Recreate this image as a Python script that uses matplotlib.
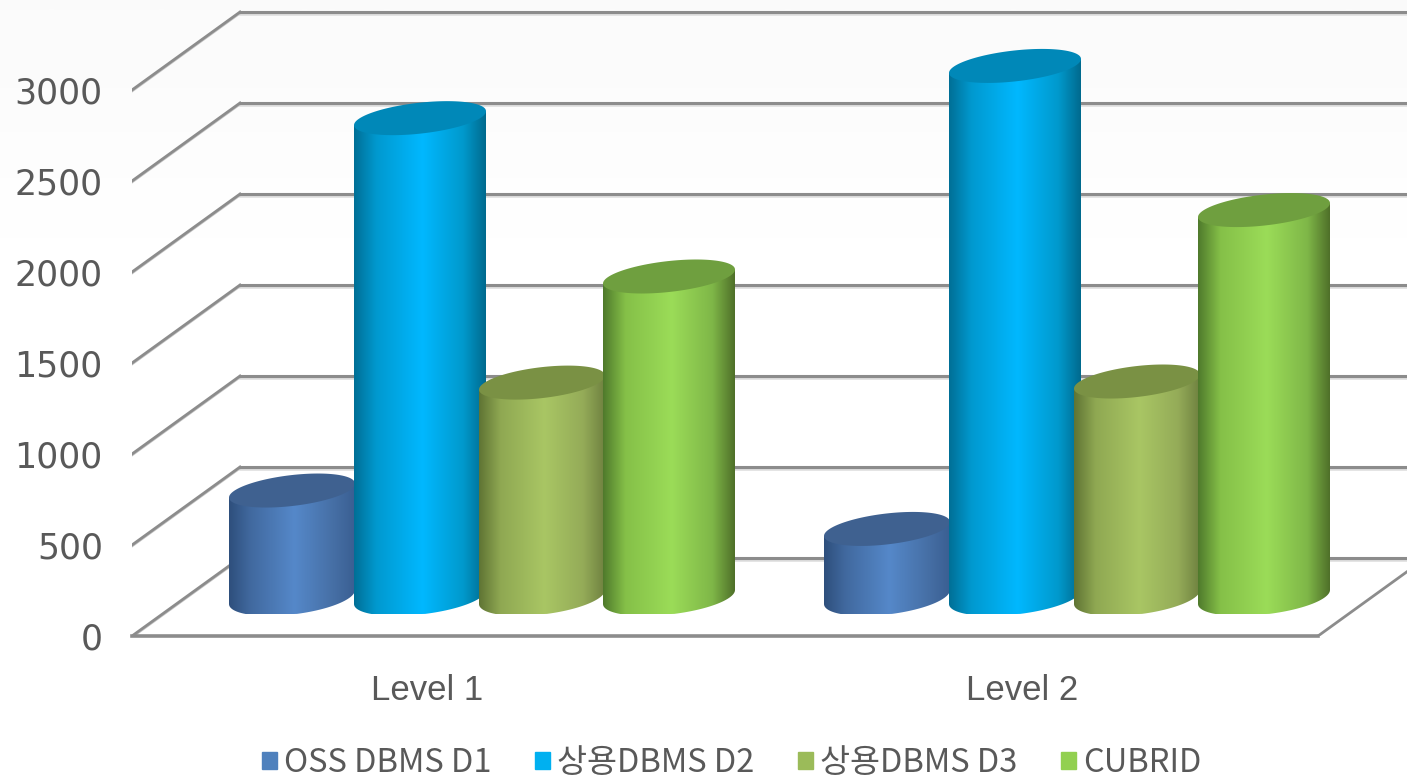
import numpy as np
import matplotlib
matplotlib.use("Agg")
import matplotlib.pyplot as plt
from matplotlib.colors import LinearSegmentedColormap
from matplotlib.patches import Patch, Polygon

levels = ["Level 1", "Level 2"]
series_names = ["OSS DBMS D1", "상용DBMS D2", "상용DBMS D3", "CUBRID"]
d1_values = [585, 374]
d2_values = [2631, 2918]
d3_values = [1178, 1184]
cubrid_values = [1761, 2126]
y_ticks = [0, 500, 1000, 1500, 2000, 2500, 3000]

legend_colors = ["#4f81bd", "#00b0f0", "#9bbb59", "#92d050"]
top_colors = ["#3f6190", "#0088b8", "#7a9144", "#6f9f3f"]
side_stops = [["#2e4f7c", "#41699f", "#5588c9", "#466fa5", "#3a5f92"],
              ["#006f96", "#0099cf", "#00b8ff", "#0099cc", "#006a8e"],
              ["#5f7434", "#8fa852", "#a9c664", "#94ab58", "#6f8140"],
              ["#4f7a2c", "#85c048", "#9bdc58", "#7fb748", "#4f7029"]]

W, H = 1407, 778
PX_X = 595.0  # pixels per category
PX_Y = 0.182  # pixels per value unit
DEPTH_X = 108 / PX_X
DEPTH_Y = 78 / PX_Y
FLOOR_PX = 636
LEFT_PX = 132

bar_offsets = np.array([-189, -61, 61, 188]) / PX_X
bar_halfs = np.array([63, 66, 63, 66]) / PX_X
SHEAR = 7 / PX_Y
THICK = 15.5 / PX_Y
BASE_THICK = 17.5 / PX_Y
GRID_DARK = "#8c8c8c"
GRID_LIGHT = "#dcdcdc"
TEXT = "#595959"

fig = plt.figure(figsize=(W / 100, H / 100), dpi=100, facecolor="white")

# faint grey wash at the top of the picture
bg = fig.add_axes([0, 0, 1, 1], zorder=-1)
wash = np.array([[0.98], [0.99], [0.997], [1.0], [1.0], [1.0], [1.0], [1.0]])
bg.imshow(wash, cmap="gray", vmin=0, vmax=1, aspect="auto", interpolation="bicubic")
bg.axis("off")

ax = fig.add_axes([LEFT_PX / W, (H - FLOOR_PX) / H, 1 - LEFT_PX / W, FLOOR_PX / H])
ax.patch.set_visible(False)
x_min = (LEFT_PX - 427) / PX_X
x_max = (W - 427) / PX_X
y_max = FLOOR_PX / PX_Y

# walls and floor
for v in y_ticks:
    back_x = [x_min + DEPTH_X, x_max]
    back_y = [v + DEPTH_Y, v + DEPTH_Y]
    ax.plot(back_x, [b - 11 for b in back_y], color=GRID_LIGHT, lw=1.8, zorder=1)
    ax.plot(back_x, back_y, color=GRID_DARK, lw=2.2, zorder=2)
    ax.plot([x_min, x_min + DEPTH_X], [v - 6, v + DEPTH_Y - 6], color="#c4c4c4", lw=1.8, zorder=1)
    ax.plot([x_min, x_min + DEPTH_X], [v, v + DEPTH_Y], color=GRID_DARK, lw=2.0, zorder=2)
floor_right = x_min + (1318 - LEFT_PX) / PX_X
ax.plot([x_min, floor_right], [0, 0], color=GRID_DARK, lw=2.6, zorder=2, clip_on=False)
ax.plot([floor_right, floor_right + DEPTH_X], [0, DEPTH_Y], color=GRID_DARK, lw=2.0, zorder=2)

t = np.linspace(0, 2 * np.pi, 120)
base_y = DEPTH_Y / 2
low_limit = (FLOOR_PX - 614) / PX_Y
all_values = [d1_values, d2_values, d3_values, cubrid_values]

z = 3
for g in range(len(levels)):
    for s, values in enumerate(all_values):
        cx = g + DEPTH_X / 2 + bar_offsets[s]
        half = bar_halfs[s]
        top_y = values[g] + base_y
        # lower half of the base rim, flattened on the floor like the source
        lt = np.linspace(np.pi, 2 * np.pi, 60)
        low_x = cx + half * np.cos(lt)
        low_y = base_y + SHEAR * np.cos(lt) + BASE_THICK * np.sin(lt)
        low_y = np.maximum(low_y, low_limit)
        body = np.column_stack([np.r_[cx - half, low_x, cx + half],
                                np.r_[top_y - SHEAR, low_y, top_y + SHEAR]])
        cmap = LinearSegmentedColormap.from_list(
            "side%d" % s,
            list(zip([0, 0.17, 0.52, 0.83, 1], side_stops[s])))
        im = ax.imshow(np.linspace(0, 1, 256).reshape(1, -1), cmap=cmap, aspect="auto",
                       extent=[cx - half, cx + half, low_limit, top_y + SHEAR + 50],
                       zorder=z, interpolation="bilinear")
        clip = Polygon(body, closed=True, transform=ax.transData, fc="none", ec="none")
        ax.add_patch(clip)
        im.set_clip_path(clip)
        top_x = cx + half * np.cos(t)
        top_e = top_y + SHEAR * np.cos(t) + THICK * np.sin(t)
        ax.fill(top_x, top_e, color=top_colors[s], lw=0, zorder=z + 1)
        z += 2

ax.set_xlim(x_min, x_max)
ax.set_ylim(0, y_max)
for side in ax.spines.values():
    side.set_visible(False)

ax.set_yticks(y_ticks)
ax.set_yticklabels([str(v) for v in y_ticks], fontsize=25, color=TEXT, family="DejaVu Sans")
ax.set_xticks(range(len(levels)))
ax.set_xticklabels(levels, fontsize=25, color=TEXT, family="Liberation Sans")
ax.tick_params(axis="y", length=0, pad=21)
ax.tick_params(axis="x", length=0, pad=27)

handles = [Patch(color=c, label=n) for c, n in zip(legend_colors, series_names)]
leg = fig.legend(handles=handles, ncol=4, frameon=False, loc="center left",
                 bbox_to_anchor=(262 / W, 1 - 763 / H),
                 prop={"family": ["Noto Sans CJK KR", "DejaVu Sans"], "size": 23.5},
                 handlelength=0.46, handleheight=0.46, handletextpad=0.22,
                 columnspacing=1.33, borderpad=0, borderaxespad=0)
for text in leg.get_texts():
    text.set_color(TEXT)

fig.savefig("out.png", dpi=100)
